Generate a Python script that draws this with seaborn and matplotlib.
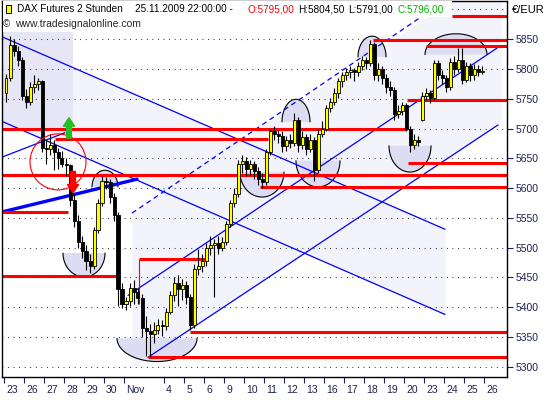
import numpy as np
import matplotlib
matplotlib.use("Agg")
import matplotlib.pyplot as plt
import seaborn as sns
from matplotlib.patches import Rectangle, Ellipse, Polygon
from matplotlib.transforms import ScaledTranslation

# ---------------- data (2h bars) ----------------
bars_per_day = 5
opens = [5760, 5785, 5840, 5830, 5815, 5755, 5745, 5770, 5775, 5780,
         5668, 5665, 5672, 5660, 5650, 5640, 5638, 5580, 5545, 5510,
         5495, 5478, 5470, 5530, 5575, 5612, 5610, 5585, 5555, 5430,
         5405, 5410, 5432, 5425, 5415, 5365, 5360, 5355, 5362, 5370,
         5368, 5392, 5420, 5440, 5430, 5438, 5418, 5370, 5465, 5470,
         5478, 5500, 5505, 5508, 5500, 5510, 5540, 5575, 5590, 5640,
         5645, 5632, 5640, 5628, 5615, 5610, 5660, 5695, 5690, 5688,
         5670, 5680, 5675, 5715, 5672, 5685, 5665, 5680, 5630, 5690,
         5700, 5735, 5745, 5760, 5780, 5790, 5795, 5798, 5795, 5805,
         5815, 5810, 5842, 5790, 5800, 5785, 5770, 5765, 5725, 5730,
         5740, 5700, 5672, 5680, 5715, 5755, 5760, 5752, 5810, 5790,
         5785, 5770, 5812, 5800, 5815, 5782, 5805, 5790, 5800, 5795]
highs = [5792, 5855, 5850, 5838, 5820, 5766, 5778, 5790, 5785, 5782,
         5680, 5690, 5680, 5668, 5662, 5650, 5640, 5590, 5555, 5520,
         5505, 5490, 5535, 5582, 5620, 5618, 5615, 5592, 5560, 5440,
         5418, 5440, 5445, 5432, 5422, 5385, 5372, 5375, 5380, 5378,
         5398, 5428, 5450, 5455, 5448, 5444, 5422, 5472, 5498, 5490,
         5508, 5520, 5515, 5520, 5518, 5545, 5580, 5600, 5648, 5655,
         5652, 5648, 5645, 5636, 5625, 5665, 5700, 5705, 5698, 5695,
         5688, 5690, 5726, 5720, 5695, 5690, 5690, 5685, 5700, 5712,
         5740, 5752, 5768, 5785, 5795, 5802, 5805, 5802, 5812, 5822,
         5820, 5849, 5845, 5810, 5805, 5792, 5780, 5770, 5740, 5745,
         5742, 5705, 5690, 5688, 5762, 5768, 5765, 5815, 5815, 5798,
         5790, 5818, 5822, 5835, 5835, 5812, 5810, 5808, 5806, 5804.5]
lows = [5745, 5780, 5822, 5805, 5748, 5735, 5740, 5760, 5765, 5660,
        5640, 5655, 5630, 5632, 5635, 5620, 5570, 5535, 5500, 5482,
        5462, 5458, 5465, 5525, 5570, 5598, 5575, 5545, 5402, 5398,
        5395, 5402, 5405, 5405, 5350, 5318, 5317, 5340, 5355, 5352,
        5362, 5388, 5410, 5402, 5412, 5405, 5362, 5366, 5455, 5460,
        5470, 5488, 5418, 5490, 5495, 5505, 5535, 5568, 5585, 5625,
        5620, 5622, 5615, 5605, 5600, 5605, 5655, 5680, 5675, 5660,
        5662, 5668, 5670, 5660, 5665, 5655, 5660, 5612, 5625, 5685,
        5695, 5728, 5740, 5752, 5770, 5782, 5785, 5780, 5788, 5798,
        5800, 5805, 5782, 5780, 5775, 5760, 5755, 5715, 5718, 5722,
        5695, 5660, 5665, 5670, 5712, 5748, 5742, 5748, 5782, 5775,
        5762, 5765, 5790, 5795, 5775, 5778, 5780, 5782, 5788, 5791]
closes = [5785, 5840, 5830, 5815, 5755, 5745, 5770, 5775, 5780, 5668,
          5665, 5672, 5660, 5650, 5640, 5638, 5580, 5545, 5510, 5495,
          5478, 5470, 5530, 5575, 5612, 5610, 5585, 5555, 5430, 5405,
          5410, 5432, 5425, 5415, 5365, 5360, 5355, 5362, 5370, 5368,
          5392, 5420, 5440, 5430, 5438, 5418, 5370, 5465, 5470, 5478,
          5500, 5505, 5508, 5500, 5510, 5540, 5575, 5590, 5640, 5645,
          5632, 5640, 5628, 5615, 5610, 5660, 5695, 5690, 5688, 5670,
          5680, 5675, 5715, 5672, 5685, 5665, 5680, 5630, 5690, 5700,
          5735, 5745, 5760, 5780, 5790, 5795, 5798, 5795, 5805, 5815,
          5810, 5842, 5790, 5800, 5785, 5770, 5765, 5725, 5730, 5740,
          5700, 5672, 5680, 5678, 5755, 5760, 5752, 5810, 5790, 5785,
          5770, 5812, 5800, 5815, 5782, 5805, 5790, 5800, 5795, 5796]

day_labels = ['23', '26', '27', '28', '29', '30', 'Nov', '', '4', '5', '6', '9',
              '10', '11', '12', '13', '16', '17', '18', '19', '20', '23', '24',
              '25', '26']
price_ticks = [5300, 5350, 5400, 5450, 5500, 5550, 5600, 5650, 5700, 5750,
               5800, 5850]

# support / resistance lines: price, start day, end day
sr_price = [5888, 5848, 5838, 5748, 5700, 5682, 5642, 5622, 5602, 5560,
            5453, 5481, 5358, 5317]
sr_start = [22.4, 18.45, 21.1, 20.15, -0.1, 2.55, 20.2, -0.1, 12.8, -0.1,
            -0.1, 6.75, 9.3, 7.2]
sr_end = [25.2, 25.2, 25.2, 25.2, 20.15, 13.2, 25.2, 25.2, 25.2, 3.2,
          5.8, 10.05, 25.2, 25.2]

# trend lines (day, price)
down_upper = [(-0.1, 5854), (22.05, 5531)]
down_lower = [(-0.1, 5712), (22.05, 5388)]
up_lower = [(7.2, 5316), (24.7, 5706)]
up_mid = [(6.2, 5420), (24.65, 5835)]
up_dashed = [(6.4, 5558), (20.8, 5886)]
thin_up = [(-0.1, 5652), (3.05, 5693)]
thick_up = [(-0.1, 5560), (6.65, 5615)]

# half circles: day, price, half width (days), depth (price), side
arc_day = [4.0, 5.05, 7.65, 12.9, 14.6, 15.7, 18.4, 20.3, 22.6]
arc_price = [5491, 5602, 5348, 5627, 5711, 5646, 5820, 5671, 5824]
arc_hw = [1.05, 0.65, 2.0, 1.1, 0.7, 1.1, 0.7, 1.05, 1.55]
arc_depth = [40, 28, 39, 42, 38, 44, 35, 44, 35]
arc_side = ['low', 'high', 'low', 'low', 'high', 'low', 'high', 'low', 'high']

# ---------------- style ----------------
sns.set_theme(style="white")
plt.rcParams['font.family'] = ['Liberation Sans', 'DejaVu Sans']

W, H = 550, 400
fig = plt.figure(figsize=(5.5, 4), dpi=100)
ax = fig.add_axes([2 / W, 23 / H, 505 / W, 376 / H])
ax.set_xlim(-0.1, 25.15)
ax.set_ylim(5283, 5914)

# shaded channels
xs = np.array([down_upper[0][0], down_upper[1][0]])
ax.fill_between(xs, [down_lower[0][1], down_lower[1][1]],
                [down_upper[0][1], down_upper[1][1]], color='#F3F3FC', lw=0, zorder=0.3)
slope = (up_lower[1][1] - up_lower[0][1]) / (up_lower[1][0] - up_lower[0][0])
ch_x = np.array([up_dashed[0][0], 24.85])
ch_lo = up_lower[0][1] + slope * (ch_x - up_lower[0][0])
ch_hi = up_dashed[0][1] + slope * (ch_x - up_dashed[0][0])
ax.fill_between(ch_x, ch_lo, ch_hi, color='#F3F3FC', lw=0, zorder=0.3)
ax.add_patch(Rectangle((-0.1, 5700), 3.55, 220, color='#E6E6F6', lw=0, zorder=0.35))

# dotted grid
for p in price_ticks + [5900]:
    ax.axhline(p, color='black', lw=0.8, ls=(0, (0.7, 4.3)), zorder=0.5)

# half circles
for cx, cy, hw, d, side in zip(arc_day, arc_price, arc_hw, arc_depth, arc_side):
    t = np.linspace(0, np.pi, 60)
    sgn = 1 if side == 'high' else -1
    ax_x = cx + hw * np.cos(t)
    ax_y = cy + sgn * d * np.sin(t)
    ax.add_patch(Polygon(np.column_stack([ax_x, ax_y]), closed=True,
                         facecolor='#DCDCF3', edgecolor='none', zorder=0.6))
    ax.plot(ax_x, ax_y, color='black', lw=0.8, zorder=0.7)

# trend lines
for ln in [down_upper, down_lower, up_lower, up_mid, thin_up]:
    ax.plot([ln[0][0], ln[1][0]], [ln[0][1], ln[1][1]], color='#0000FF', lw=0.9, zorder=2)
ax.plot([up_dashed[0][0], up_dashed[1][0]], [up_dashed[0][1], up_dashed[1][1]],
        color='#0000FF', lw=0.9, ls=(0, (4, 3)), zorder=2)
ax.plot([thick_up[0][0], thick_up[1][0]], [thick_up[0][1], thick_up[1][1]],
        color='#0000FF', lw=2.4, zorder=2)

# support / resistance
ax.hlines(sr_price, sr_start, sr_end, color='#FF0000', lw=2.2, zorder=2.5)
ax.vlines(6.75, 5405, 5481, color='#FF0000', lw=0.8, zorder=2.5)

# candles
x = np.arange(len(closes)) / bars_per_day + 0.1
o = np.array(opens, dtype=float)
c = np.array(closes, dtype=float)
body_lo = np.minimum(o, c)
body_h = np.maximum(np.abs(c - o), 1.5)
cols = np.where(c >= o, '#FFFF00', '#000000')
ax.vlines(x, lows, highs, color='black', lw=0.8, zorder=3)
ax.bar(x, body_h, bottom=body_lo, width=0.15, color=cols, edgecolor='black',
       linewidth=0.6, zorder=3.2)

# red circle and arrows
ax.add_patch(Ellipse((2.7, 5644), 2.8, 94, fill=False, edgecolor='#FF0000', lw=0.8, zorder=3.5))
ax.annotate('', xy=(3.25, 5718), xytext=(3.25, 5684),
            arrowprops=dict(arrowstyle='simple,head_length=0.6,head_width=0.8,tail_width=0.35',
                            color='#22C022', mutation_scale=10, shrinkA=0, shrinkB=0), zorder=4)
ax.annotate('', xy=(3.45, 5592), xytext=(3.45, 5628),
            arrowprops=dict(arrowstyle='simple,head_length=0.6,head_width=0.8,tail_width=0.35',
                            color='#FF0000', mutation_scale=10, shrinkA=0, shrinkB=0), zorder=4)

# axes
tick_col = '#1C2350'
ax.yaxis.tick_right()
ax.set_yticks(price_ticks)
ax.set_yticklabels([str(p) for p in price_ticks])
tick_days = [d for d, lab in enumerate(day_labels) if lab]
ax.set_xticks(tick_days)
ax.set_xticklabels([lab for lab in day_labels if lab])
ax.tick_params(axis='y', length=4, width=0.8, pad=2, labelsize=7.5,
               colors=tick_col, right=True, left=False)
ax.tick_params(axis='x', length=4, width=0.8, pad=2, labelsize=7.5,
               colors=tick_col, bottom=True)
for lab in ax.get_xticklabels():
    lab.set_horizontalalignment('left')
    lab.set_transform(lab.get_transform() + ScaledTranslation(1.5 / 72, 0, fig.dpi_scale_trans))
for sp in ax.spines.values():
    sp.set_color('black')
    sp.set_linewidth(1)

# header
def fx(px):
    return px / W


def fy(py):
    return 1 - py / H


fig.add_artist(Rectangle((fx(3), fy(17)), (452 - 3) / W, 16 / H,
                         transform=fig.transFigure, color='white', lw=0, zorder=2))
fig.add_artist(Rectangle((fx(3), fy(32)), (148 - 3) / W, 15 / H,
                         transform=fig.transFigure, color='white', lw=0, zorder=2))
fig.add_artist(Rectangle((fx(6), fy(13)), 5 / W, 8 / H, transform=fig.transFigure,
                         facecolor='#FFFF00', edgecolor='black', lw=0.7, zorder=3))
head = [(17, 'DAX Futures 2 Stunden', 'black'),
        (135, '25.11.2009 22:00:00 -', 'black'),
        (247, 'O:5795,00', '#FF0000'),
        (298, 'H:5804,50', 'black'),
        (348, 'L:5791,00', 'black'),
        (398, 'C:5796,00', '#00B000')]
for px, s, col in head:
    fig.text(fx(px), fy(9), s, color=col, fontsize=7.2, va='center', ha='left', zorder=4)
fig.text(fx(3), fy(24), '\u00a9', fontsize=7, va='center', ha='left', zorder=4)
fig.text(fx(15), fy(24), 'www.tradesignalonline.com', fontsize=7.5, va='center',
         ha='left', zorder=4)
fig.text(fx(512), fy(10), '\u20ac/EUR', fontsize=8, va='center', ha='left', color='black')

fig.savefig('out.png', dpi=100, facecolor='white')
